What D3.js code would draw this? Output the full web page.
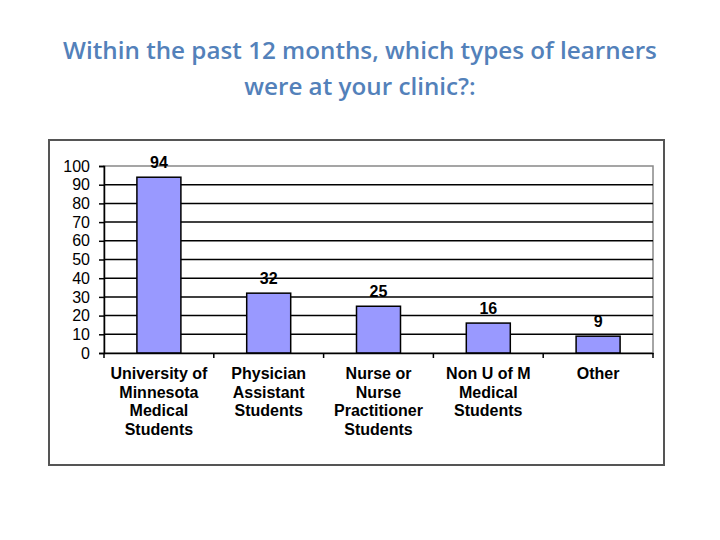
<!DOCTYPE html>
<html><head><meta charset="utf-8">
<script src="https://cdn.jsdelivr.net/npm/d3@7"></script>
<style>body{margin:0;background:#fff}</style>
</head><body>
<script>
const categories = [
  ["University of","Minnesota","Medical","Students"],
  ["Physician","Assistant","Students"],
  ["Nurse or","Nurse","Practitioner","Students"],
  ["Non U of M","Medical","Students"],
  ["Other"]
];
const values = [94, 32, 25, 16, 9];
const yTicks = [0,10,20,30,40,50,60,70,80,90,100];
const titleLines = ["Within the past 12 months, which types of learners","were at your clinic?:"];

const W=720,H=540;
const svg=d3.select("body").append("svg").attr("width",W).attr("height",H);
svg.append("rect").attr("width",W).attr("height",H).attr("fill","#fff");

const tt=svg.selectAll("text.title").data(titleLines).enter().append("text")
  .attr("x",360).attr("y",(d,i)=>59+i*36).attr("text-anchor","middle")
  .attr("font-family","'Open Sans', sans-serif").attr("font-weight","600")
  .attr("font-size",22).attr("fill","#5381ba").text(d=>d);
const w0=tt.node().getComputedTextLength();
tt.attr("font-size",22*594/w0);

// frame
svg.append("rect").attr("x",49).attr("y",140).attr("width",615).attr("height",325)
  .attr("fill","none").attr("stroke","#555").attr("stroke-width",2);

const x0=104,x1=653,yT=166,yB=353;
const x=d3.scaleBand().domain(d3.range(values.length)).range([x0,x1]).paddingInner(0).paddingOuter(0);
const y=d3.scaleLinear().domain([0,100]).range([yB,yT]);
const FONT="'Liberation Sans', Arial, sans-serif";

// plot area border
svg.append("rect").attr("x",x0).attr("y",yT).attr("width",x1-x0).attr("height",yB-yT)
  .attr("fill","none").attr("stroke","#888").attr("stroke-width",1.5);

// gridlines
svg.append("g").selectAll("line").data(yTicks.filter(t=>t>0&&t<100)).enter().append("line")
  .attr("x1",x0).attr("x2",x1).attr("y1",d=>y(d)).attr("y2",d=>y(d))
  .attr("stroke","#000").attr("stroke-width",1.5);

// y axis
const ya=svg.append("g").attr("transform",`translate(${x0},0)`)
  .call(d3.axisLeft(y).tickValues(yTicks).tickSize(5).tickPadding(9));
ya.attr("font-size",16).attr("font-family",FONT);
ya.select(".domain").attr("stroke","#000").attr("stroke-width",1.5);
ya.selectAll(".tick line").attr("stroke","#000").attr("stroke-width",1.5);
ya.selectAll("text").style("font-size","16px").style("font-family",FONT).attr("fill","#000");

// bars
const bw=44;
svg.append("g").selectAll("rect").data(values).enter().append("rect")
  .attr("x",(d,i)=>x(i)+x.bandwidth()/2-bw/2).attr("width",bw)
  .attr("y",d=>y(d)).attr("height",d=>y(0)-y(d))
  .attr("fill","#9999ff").attr("stroke","#000").attr("stroke-width",1.5);

// x axis
const xa=svg.append("g").attr("transform",`translate(0,${yB})`)
  .call(d3.axisBottom(x).tickSize(0).tickFormat(""));
xa.select(".domain").attr("stroke","#000").attr("stroke-width",1.5);
svg.append("g").selectAll("line").data(d3.range(values.length+1)).enter().append("line")
  .attr("x1",i=>x0+i*x.step()).attr("x2",i=>x0+i*x.step()).attr("y1",yB).attr("y2",yB+5)
  .attr("stroke","#000").attr("stroke-width",1.5);

// value labels
svg.append("g").selectAll("text").data(values).enter().append("text")
  .attr("x",(d,i)=>x(i)+x.bandwidth()/2).attr("y",d=>y(d)-9).attr("text-anchor","middle")
  .style("font-family",FONT).attr("font-weight","bold").style("font-size","16px")
  .text(d=>d);

// category labels
const cg=svg.append("g");
categories.forEach((lines,i)=>{
  const t=cg.append("text").attr("text-anchor","middle")
    .style("font-family",FONT).attr("font-weight","bold").style("font-size","16px");
  lines.forEach((l,j)=>t.append("tspan").attr("x",x(i)+x.bandwidth()/2).attr("y",379+j*18.5).text(l));
});
</script>
</body></html>
